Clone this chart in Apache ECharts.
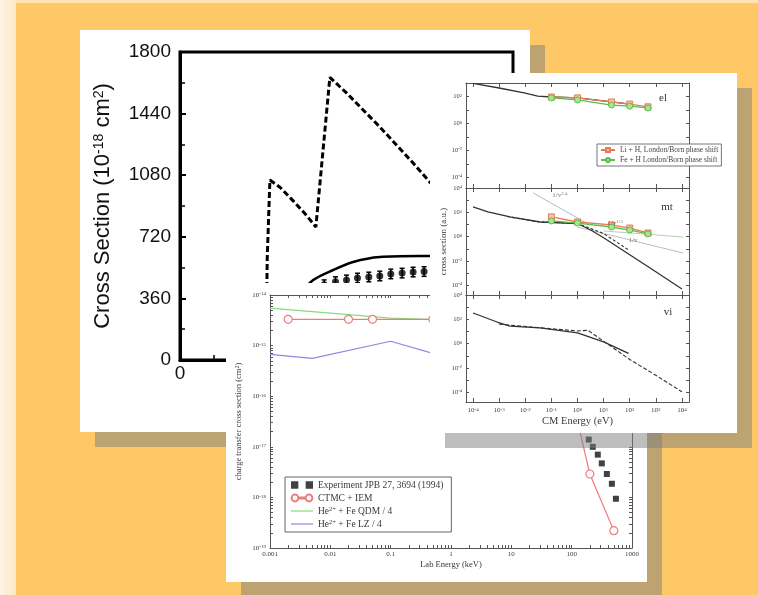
<!DOCTYPE html>
<html>
<head>
<meta charset="utf-8">
<script src="https://cdn.jsdelivr.net/npm/echarts@6/dist/echarts.min.js"></script>
<style>
  html, body { margin: 0; padding: 0; background: #FEC867; }
  #chart { width: 758px; height: 595px; }
</style>
</head>
<body>
<div id="chart"></div>
<script>
// ---------- left sheet: total cross section vs. energy ----------
const csTicks = [0, 360, 720, 1080, 1440, 1800];
const dashedE  = [2.58, 2.62, 2.7, 3.0, 3.4, 3.8, 4.08, 4.5, 5.0, 5.5, 6.0, 6.5, 7.0, 7.5, 8.0, 9.0, 10.0];
const dashedCS = [0, 600, 1052, 1010, 930, 845, 777, 1652, 1561, 1461, 1362, 1257, 1151, 1040, 950, 820, 720];
const solidE   = [2.6, 3.0, 3.5, 4.0, 4.6, 5.2, 6.0, 7.5, 10.0];
const solidCS  = [0, 200, 360, 467, 526, 573, 602, 608, 610];
const measE    = [4.33, 4.67, 5.0, 5.33, 5.67, 6.0, 6.33, 6.67, 7.0, 7.33, 7.67];
const measCS   = [440, 458, 468, 479, 485, 491, 503, 508, 514, 517, 520];
const measErr  = [28, 28, 28, 28, 28, 28, 28, 28, 28, 28, 28];

// ---------- front sheet: charge transfer vs. lab energy ----------
const labTicks = [0.001, 0.01, 0.1, 1, 10, 100, 1000];
const ctTicks  = [1e-19, 1e-18, 1e-17, 1e-16, 1e-15, 1e-14];
const expLab   = [192, 224, 271, 316, 383, 464, 541];
const expCT    = [1.39e-17, 1.0e-17, 7.0e-18, 4.7e-18, 2.9e-18, 1.86e-18, 9.4e-19];
const ctmcLab  = [0.002, 0.02, 0.05, 0.5, 5, 50, 100, 200, 500];
const ctmcCT   = [3.3e-15, 3.3e-15, 3.3e-15, 3.3e-15, 2.5e-15, 1.0e-15, 1.0e-16, 2.9e-18, 2.2e-19];
const qdmLab   = [0.001, 0.01, 0.1, 1, 10, 100];
const qdmCT    = [5.5e-15, 4.4e-15, 3.5e-15, 3.2e-15, 2.0e-15, 3.0e-16];
const lzLab    = [0.001, 0.005, 0.1, 0.5, 5, 50];
const lzCT     = [6.7e-16, 5.6e-16, 1.22e-15, 7.0e-16, 3.0e-16, 1.0e-16];

// ---------- right sheet: el / mt / vi cross sections vs. CM energy ----------
const cmTicks  = [1e-4, 1e-3, 1e-2, 1e-1, 1, 10, 100, 1000, 1e4];
const auTicksEl = [1e-4, 1e-2, 1, 100];
const auTicks   = [1e-4, 1e-2, 1, 100, 1e4];
const elE      = [1e-4, 1e-3, 1e-2, 0.03, 0.1, 1, 20, 100];
const elCS     = [950, 425, 180, 107, 91, 78, 39, 27];
const phaseE   = [0.1, 1, 20, 100, 500];
const elLi     = [91, 78, 39, 27, 17];
const elFe     = [78, 55, 23, 19, 14];
const mtE      = [1e-4, 3.7e-4, 2.6e-3, 0.037, 1, 3.2, 10, 100, 1000, 1e4];
const mtCS     = [275, 107, 42, 16, 12, 3.5, 0.8, 0.032, 1.3e-3, 5e-5];
const mtDashE  = [2e-3, 0.03, 1, 10, 90];
const mtDashCS = [45, 17, 12, 1.8, 0.08];
const mtLi     = [42, 16, 9.1, 5.1, 2.0];
const mtFe     = [19.5, 13, 6.2, 3.5, 1.7];
const fitA_E   = [0.02, 3];      const fitA_CS = [3900, 9];
const fitB_E   = [1, 1.1e4];     const fitB_CS = [6.2, 0.045];
const fitC_E   = [10, 1.1e4];    const fitC_CS = [2.95, 0.93];
const fitLabels = [
  { e: 0.21, cs: 2630, text: '{t|1/v}{s|2.4}' },
  { e: 27.5, cs: 13.2, text: '{t|1/v}{s|1/3}' },
  { e: 135,  cs: 0.52, text: '{t|1/v}' }
];
const viE      = [1e-4, 8.3e-4, 2.6e-3, 0.037, 1, 10, 90];
const viCS     = [331, 60, 28, 19.5, 7.6, 1.4, 0.16];
const viDashE  = [1e-3, 0.037, 1, 2.5, 10, 100, 1000, 1e4];
const viDashCS = [40, 20, 11, 12.6, 1.6, 0.05, 0.0025, 1.1e-4];

// ---------- helpers ----------
const SANS = '"Liberation Sans", Arial, Helvetica, sans-serif';
const SERIF = '"Liberation Serif", "Times New Roman", "DejaVu Serif", serif';
const SHADOW = 'rgba(125,125,125,0.5)';
const FRAME = '#555';
const INK = '#3a3a3a';
const lg = Math.log10;
const toPts = (xs, ys) => xs.map((x, i) => [lg(x), lg(ys[i])]);
const logMinors = (lo, hi) => {
  const out = [];
  for (let d = lo; d < hi; d++) for (let k = 2; k <= 9; k++) out.push(d + lg(k));
  return out;
};
const powLabel = v => '{b|10}{s|' + Math.round(v) + '}';
const powRich = (b, s) => ({
  b: { fontFamily: SERIF, fontSize: b, color: INK },
  s: { fontFamily: SERIF, fontSize: s, color: INK, verticalAlign: 'top' }
});
// legend glyphs: a plain stroke, and ring-stroke-ring
const LINE_ICON = 'path://M0,0M0,3.4h22v1.2h-22zM22,8';
const RING_ICON = 'path://M0.6,4a3.4,3.4 0 1,0 6.8,0a3.4,3.4 0 1,0 -6.8,0zM7.4,3.6h7.2v0.8h-7.2zM14.6,4a3.4,3.4 0 1,0 6.8,0a3.4,3.4 0 1,0 -6.8,0zM0,0M22,8';

// log-scaled value axis drawn on log10 of the data
function logAxis(o) {
  const ax = {
    type: 'value', gridIndex: o.grid, position: o.pos, min: o.min, max: o.max,
    zlevel: o.zlevel, z: 3,
    axisLine: { show: true, onZero: false, lineStyle: { color: FRAME, width: 1 } },
    axisTick: { show: true, inside: true, length: o.tickLen || 3, customValues: o.ticks, lineStyle: { color: FRAME, width: 1 } },
    axisLabel: { show: !!o.labels },
    splitLine: { show: false },
    minorTick: { show: false }
  };
  if (o.labels) {
    ax.axisLabel = {
      show: true, customValues: o.labels, formatter: o.formatter || powLabel, margin: o.margin || 3,
      fontFamily: SERIF, fontSize: o.fontSize || 7, color: INK, rich: powRich(o.fontSize || 7, (o.fontSize || 7) - 2)
    };
  }
  if (o.name) {
    ax.name = o.name; ax.nameLocation = 'middle'; ax.nameGap = o.nameGap; ax.nameMoveOverlap = false;
    ax.nameTextStyle = { fontFamily: SERIF, fontSize: o.nameSize || 8.5, color: INK, rich: o.nameRich || {} };
  }
  return ax;
}

const cmMaj = cmTicks.map(lg);
const cmMin = -4.27, cmMax = 4.27;
const labMaj = labTicks.map(lg);
const ctMaj = ctTicks.map(lg);

const chart = echarts.init(document.getElementById('chart'), null, { renderer: 'canvas' });

const xAxis = [
  // 0: left sheet energy axis
  {
    type: 'value', gridIndex: 0, position: 'bottom', min: 0, max: 10, interval: 2, zlevel: 0, z: 3,
    axisLine: { show: true, onZero: false, lineStyle: { color: '#000', width: 3 } },
    axisTick: { show: true, inside: true, length: 6, lineStyle: { color: '#000', width: 2 } },
    minorTick: { show: true, splitNumber: 2, length: 5, lineStyle: { color: '#000', width: 1.5 } },
    axisLabel: { fontFamily: SANS, fontSize: 19, color: '#111', margin: 4, formatter: v => String(v) },
    splitLine: { show: false }
  },
  // 1-2: charge transfer sheet
  logAxis({ grid: 1, pos: 'bottom', min: -3, max: 3, zlevel: 1, ticks: labMaj.concat(logMinors(-3, 3)), labels: labMaj,
    formatter: v => String(Math.pow(10, Math.round(v))), fontSize: 7, margin: 3,
    name: 'Lab Energy (keV)', nameGap: 12, nameSize: 8.5 }),
  logAxis({ grid: 1, pos: 'top', min: -3, max: 3, zlevel: 1, ticks: labMaj.concat(logMinors(-3, 3)) }),
  // 3-8: el / mt / vi
  logAxis({ grid: 2, pos: 'bottom', min: cmMin, max: cmMax, zlevel: 2, ticks: cmMaj, tickLen: 4 }),
  logAxis({ grid: 2, pos: 'top', min: cmMin, max: cmMax, zlevel: 2, ticks: cmMaj, tickLen: 4 }),
  logAxis({ grid: 3, pos: 'bottom', min: cmMin, max: cmMax, zlevel: 2, ticks: cmMaj, tickLen: 4 }),
  logAxis({ grid: 3, pos: 'top', min: cmMin, max: cmMax, zlevel: 2, ticks: cmMaj, tickLen: 4 }),
  logAxis({ grid: 4, pos: 'bottom', min: cmMin, max: cmMax, zlevel: 2, ticks: cmMaj, tickLen: 4, labels: cmMaj, fontSize: 7, margin: 5,
    name: 'CM Energy (eV)', nameGap: 14, nameSize: 10.5 }),
  logAxis({ grid: 4, pos: 'top', min: cmMin, max: cmMax, zlevel: 2, ticks: cmMaj, tickLen: 4 })
];

const yAxis = [
  // 0: left sheet cross section axis
  {
    type: 'value', gridIndex: 0, position: 'left', min: 0, max: 1800, interval: 360, zlevel: 0, z: 3,
    axisLine: { show: true, onZero: false, lineStyle: { color: '#000', width: 3 } },
    axisTick: { show: true, inside: true, length: 6, lineStyle: { color: '#000', width: 2 } },
    minorTick: { show: true, splitNumber: 2, length: 5, lineStyle: { color: '#000', width: 1.5 } },
    axisLabel: { fontFamily: SANS, fontSize: 19, color: '#111', margin: 9, customValues: csTicks, formatter: v => String(v) },
    splitLine: { show: false },
    name: '{a|Cross Section (10}{s|-18}{a| cm}{s|2}{a|)}',
    nameLocation: 'middle', nameGap: 66, nameMoveOverlap: false,
    nameTextStyle: {
      rich: {
        a: { fontFamily: SANS, fontSize: 22, color: '#111' },
        s: { fontFamily: SANS, fontSize: 14, color: '#111', verticalAlign: 'top' }
      }
    }
  },
  // 1-2: charge transfer sheet
  logAxis({ grid: 1, pos: 'left', min: -19, max: -14, zlevel: 1, ticks: ctMaj.concat(logMinors(-19, -14)), labels: ctMaj, fontSize: 7, margin: 4,
    name: '{t|charge transfer cross section (cm}{s|2}{t|)}', nameGap: 27, nameSize: 8.5,
    nameRich: { t: { fontFamily: SERIF, fontSize: 8.5, color: INK }, s: { fontFamily: SERIF, fontSize: 6, color: INK, verticalAlign: 'top' } } }),
  logAxis({ grid: 1, pos: 'right', min: -19, max: -14, zlevel: 1, ticks: ctMaj.concat(logMinors(-19, -14)) }),
  // 3-8: el / mt / vi
  logAxis({ grid: 2, pos: 'left', min: -4.8, max: 3, zlevel: 2, ticks: [-4, -3, -2, -1, 0, 1, 2, 3], labels: auTicksEl.map(lg), fontSize: 6.5, margin: 4 }),
  logAxis({ grid: 2, pos: 'right', min: -4.8, max: 3, zlevel: 2, ticks: [-4, -3, -2, -1, 0, 1, 2, 3] }),
  logAxis({ grid: 3, pos: 'left', min: -4.8, max: 4, zlevel: 2, ticks: [-4, -3, -2, -1, 0, 1, 2, 3, 4], labels: auTicks.map(lg), fontSize: 6.5, margin: 4,
    name: 'cross section (a.u.)', nameGap: 18, nameSize: 9 }),
  logAxis({ grid: 3, pos: 'right', min: -4.8, max: 4, zlevel: 2, ticks: [-4, -3, -2, -1, 0, 1, 2, 3, 4] }),
  logAxis({ grid: 4, pos: 'left', min: -4.8, max: 4, zlevel: 2, ticks: [-4, -3, -2, -1, 0, 1, 2, 3, 4], labels: auTicks.map(lg), fontSize: 6.5, margin: 4 }),
  logAxis({ grid: 4, pos: 'right', min: -4.8, max: 4, zlevel: 2, ticks: [-4, -3, -2, -1, 0, 1, 2, 3, 4] })
];

const lineBase = { type: 'line', animation: false, showSymbol: false, symbol: 'none', clip: true, silent: true };

const series = [
  // left sheet
  Object.assign({}, lineBase, { name: 'dashed', xAxisIndex: 0, yAxisIndex: 0, zlevel: 0, z: 4,
    data: dashedE.map((e, i) => [e, dashedCS[i]]),
    lineStyle: { color: '#000', width: 3, type: [6, 3] } }),
  Object.assign({}, lineBase, { name: 'solid', xAxisIndex: 0, yAxisIndex: 0, zlevel: 0, z: 4, smooth: 0.3,
    data: solidE.map((e, i) => [e, solidCS[i]]),
    lineStyle: { color: '#000', width: 2.5 } }),
  { type: 'custom', name: 'errors', xAxisIndex: 0, yAxisIndex: 0, zlevel: 0, z: 5, silent: true, animation: false,
    data: measE.map((e, i) => [e, measCS[i], measErr[i]]),
    renderItem: (params, api) => {
      const x = api.value(0), y = api.value(1), err = api.value(2);
      const hi = api.coord([x, y + err]), lo = api.coord([x, y - err]);
      const w = 2.5, st = { stroke: '#000', lineWidth: 1.5 };
      return { type: 'group', children: [
        { type: 'line', shape: { x1: hi[0], y1: hi[1], x2: lo[0], y2: lo[1] }, style: st },
        { type: 'line', shape: { x1: hi[0] - w, y1: hi[1], x2: hi[0] + w, y2: hi[1] }, style: st },
        { type: 'line', shape: { x1: lo[0] - w, y1: lo[1], x2: lo[0] + w, y2: lo[1] }, style: st }
      ] };
    } },
  { type: 'scatter', name: 'measured', xAxisIndex: 0, yAxisIndex: 0, zlevel: 0, z: 6, silent: true, animation: false,
    symbol: 'circle', symbolSize: 7, itemStyle: { color: '#000' },
    data: measE.map((e, i) => [e, measCS[i]]) },

  // charge transfer sheet
  Object.assign({}, lineBase, { name: 'He2+ + Fe QDM / 4', xAxisIndex: 1, yAxisIndex: 1, zlevel: 1, z: 4,
    data: toPts(qdmLab, qdmCT), lineStyle: { color: '#86DC80', width: 1.2 }, itemStyle: { color: '#86DC80' } }),
  Object.assign({}, lineBase, { name: 'He2+ + Fe LZ / 4', xAxisIndex: 1, yAxisIndex: 1, zlevel: 1, z: 4,
    data: toPts(lzLab, lzCT), lineStyle: { color: '#8A8AE6', width: 1.2 }, itemStyle: { color: '#8A8AE6' } }),
  Object.assign({}, lineBase, { name: 'CTMC + IEM', xAxisIndex: 1, yAxisIndex: 1, zlevel: 1, z: 5,
    showSymbol: true, symbol: 'circle', symbolSize: 8,
    data: toPts(ctmcLab, ctmcCT), lineStyle: { color: '#EE7C7C', width: 1.2 },
    itemStyle: { color: '#fff', borderColor: '#EE7C7C', borderWidth: 1.2 } }),
  { type: 'scatter', name: 'Experiment JPB 27, 3694 (1994)', xAxisIndex: 1, yAxisIndex: 1, zlevel: 1, z: 6, silent: true, animation: false,
    symbol: 'rect', symbolSize: 6, itemStyle: { color: '#111' },
    data: toPts(expLab, expCT) },

  // el
  Object.assign({}, lineBase, { name: 'el-black', xAxisIndex: 3, yAxisIndex: 3, zlevel: 2, z: 4,
    data: toPts(elE, elCS), lineStyle: { color: '#333', width: 1.3 } }),
  Object.assign({}, lineBase, { name: 'Li + H, London/Born phase shift', xAxisIndex: 3, yAxisIndex: 3, zlevel: 2, z: 5,
    showSymbol: true, symbol: 'rect', symbolSize: 6, data: toPts(phaseE, elLi),
    lineStyle: { color: '#E97A55', width: 1.3 }, itemStyle: { color: '#F7C0A8', borderColor: '#E97A55', borderWidth: 1 } }),
  Object.assign({}, lineBase, { name: 'Fe + H London/Born phase shift', xAxisIndex: 3, yAxisIndex: 3, zlevel: 2, z: 6,
    showSymbol: true, symbol: 'circle', symbolSize: 6, data: toPts(phaseE, elFe),
    lineStyle: { color: '#5DBE4E', width: 1.3 }, itemStyle: { color: '#A6E592', borderColor: '#5DBE4E', borderWidth: 1 } }),

  // mt
  Object.assign({}, lineBase, { name: 'fitA', xAxisIndex: 5, yAxisIndex: 5, zlevel: 2, z: 3,
    data: toPts(fitA_E, fitA_CS), lineStyle: { color: '#AEBFC6', width: 1 } }),
  Object.assign({}, lineBase, { name: 'fitB', xAxisIndex: 5, yAxisIndex: 5, zlevel: 2, z: 3,
    data: toPts(fitB_E, fitB_CS), lineStyle: { color: '#B4C4C0', width: 1 } }),
  Object.assign({}, lineBase, { name: 'fitC', xAxisIndex: 5, yAxisIndex: 5, zlevel: 2, z: 3,
    data: toPts(fitC_E, fitC_CS), lineStyle: { color: '#B8D2B4', width: 1 } }),
  Object.assign({}, lineBase, { name: 'mt-black', xAxisIndex: 5, yAxisIndex: 5, zlevel: 2, z: 4,
    data: toPts(mtE, mtCS), lineStyle: { color: '#333', width: 1.3 } }),
  Object.assign({}, lineBase, { name: 'mt-dash', xAxisIndex: 5, yAxisIndex: 5, zlevel: 2, z: 4,
    data: toPts(mtDashE, mtDashCS), lineStyle: { color: '#333', width: 1.1, type: [3, 2] } }),
  Object.assign({}, lineBase, { name: 'Li + H, London/Born phase shift', xAxisIndex: 5, yAxisIndex: 5, zlevel: 2, z: 5,
    showSymbol: true, symbol: 'rect', symbolSize: 6, data: toPts(phaseE, mtLi),
    lineStyle: { color: '#E97A55', width: 1.3 }, itemStyle: { color: '#F7C0A8', borderColor: '#E97A55', borderWidth: 1 } }),
  Object.assign({}, lineBase, { name: 'Fe + H London/Born phase shift', xAxisIndex: 5, yAxisIndex: 5, zlevel: 2, z: 6,
    showSymbol: true, symbol: 'circle', symbolSize: 6, data: toPts(phaseE, mtFe),
    lineStyle: { color: '#5DBE4E', width: 1.3 }, itemStyle: { color: '#A6E592', borderColor: '#5DBE4E', borderWidth: 1 } }),
  { type: 'scatter', name: 'fit labels', xAxisIndex: 5, yAxisIndex: 5, zlevel: 2, z: 7, silent: true, animation: false,
    symbolSize: 0,
    data: fitLabels.map(f => ({ value: [lg(f.e), lg(f.cs)], text: f.text })),
    label: { show: true, position: 'inside', formatter: p => p.data.text,
      rich: { t: { fontFamily: SERIF, fontSize: 7, color: '#555' }, s: { fontFamily: SERIF, fontSize: 5, color: '#555', verticalAlign: 'top' } } } },

  // vi
  Object.assign({}, lineBase, { name: 'vi-black', xAxisIndex: 7, yAxisIndex: 7, zlevel: 2, z: 4,
    data: toPts(viE, viCS), lineStyle: { color: '#333', width: 1.3 } }),
  Object.assign({}, lineBase, { name: 'vi-dash', xAxisIndex: 7, yAxisIndex: 7, zlevel: 2, z: 4,
    data: toPts(viDashE, viDashCS), lineStyle: { color: '#333', width: 1.1, type: [4, 2] } })
];

const heRich = {
  t: { fontFamily: SERIF, fontSize: 9.5, color: INK },
  s: { fontFamily: SERIF, fontSize: 6.5, color: INK, verticalAlign: 'top' }
};

const option = {
  animation: false,
  backgroundColor: '#FEC867',
  grid: [
    { left: 180, top: 52, width: 333, height: 308, show: true, borderColor: '#000', borderWidth: 3, backgroundColor: 'transparent',
      zlevel: 0, z: 2, containLabel: false, outerBoundsMode: 'none' },
    { left: 270, top: 295, width: 362, height: 253, zlevel: 1, containLabel: false, outerBoundsMode: 'none' },
    { left: 466, top: 83, width: 223, height: 105, zlevel: 2, containLabel: false, outerBoundsMode: 'none' },
    { left: 466, top: 188, width: 223, height: 107, zlevel: 2, containLabel: false, outerBoundsMode: 'none' },
    { left: 466, top: 295, width: 223, height: 107, zlevel: 2, containLabel: false, outerBoundsMode: 'none' }
  ],
  xAxis, yAxis, series,
  legend: [
    {
      zlevel: 1, z: 8, left: 285, top: 477, orient: 'vertical', selectedMode: false,
      backgroundColor: '#fff', borderColor: '#666', borderWidth: 1, padding: [3, 8, 3, 5], itemGap: 3,
      itemWidth: 22, itemHeight: 8,
      textStyle: { fontFamily: SERIF, fontSize: 9.5, color: INK, rich: heRich },
      formatter: name => name.startsWith('He2+') ? '{t|He}{s|2+}{t|' + name.slice(4) + '}' : name,
      data: [
        { name: 'Experiment JPB 27, 3694 (1994)', icon: 'path://M0,0h4v4h-4zM8,0h4v4h-4z' },
        { name: 'CTMC + IEM', icon: RING_ICON },
        { name: 'He2+ + Fe QDM / 4', icon: LINE_ICON },
        { name: 'He2+ + Fe LZ / 4', icon: LINE_ICON }
      ]
    },
    {
      zlevel: 2, z: 8, left: 597, top: 144, orient: 'vertical', selectedMode: false,
      backgroundColor: '#fff', borderColor: '#777', borderWidth: 1, padding: [2, 3, 2, 3], itemGap: 2,
      itemWidth: 14, itemHeight: 5,
      textStyle: { fontFamily: SERIF, fontSize: 7.5, color: '#444' },
      data: ['Li + H, London/Born phase shift', 'Fe + H London/Born phase shift']
    }
  ],
  graphic: { elements: [
    { type: 'rect', zlevel: 0, z: -100, silent: true, shape: { x: 0, y: 0, width: 758, height: 595 }, style: { fill: '#FEC867' } },
    { type: 'rect', zlevel: 0, z: -99, silent: true, shape: { x: 0, y: 0, width: 16, height: 595 },
      style: { fill: new echarts.graphic.LinearGradient(0, 0, 1, 0, [{ offset: 0, color: '#FCF4E6' }, { offset: 1, color: '#FDE8C4' }]) } },
    { type: 'rect', zlevel: 0, z: -99, silent: true, shape: { x: 16, y: 0, width: 742, height: 3 }, style: { fill: '#FDE4B4' } },
    // left sheet
    { type: 'rect', zlevel: 0, z: -90, silent: true, shape: { x: 95, y: 45, width: 450, height: 402 }, style: { fill: SHADOW } },
    { type: 'rect', zlevel: 0, z: -80, silent: true, shape: { x: 80, y: 30, width: 450, height: 402 }, style: { fill: '#fff' } },
    // front sheet
    { type: 'rect', zlevel: 1, z: -90, silent: true, shape: { x: 241, y: 298, width: 421, height: 299 }, style: { fill: SHADOW } },
    { type: 'rect', zlevel: 1, z: -80, silent: true, shape: { x: 226, y: 283, width: 421, height: 299 }, style: { fill: '#fff' } },
    // right sheet
    { type: 'rect', zlevel: 2, z: -90, silent: true, shape: { x: 445, y: 88, width: 307, height: 360 }, style: { fill: SHADOW } },
    { type: 'rect', zlevel: 2, z: -80, silent: true, shape: { x: 430, y: 73, width: 307, height: 360 }, style: { fill: '#fff' } },
    { type: 'text', zlevel: 2, z: 10, silent: true, x: 663, y: 98,
      style: { text: 'el', font: '11px "Liberation Serif", serif', fill: '#333', align: 'center', verticalAlign: 'middle', textAlign: 'center', textVerticalAlign: 'middle' } },
    { type: 'text', zlevel: 2, z: 10, silent: true, x: 667, y: 207,
      style: { text: 'mt', font: '11px "Liberation Serif", serif', fill: '#333', align: 'center', verticalAlign: 'middle', textAlign: 'center', textVerticalAlign: 'middle' } },
    { type: 'text', zlevel: 2, z: 10, silent: true, x: 668, y: 312,
      style: { text: 'vi', font: '11px "Liberation Serif", serif', fill: '#333', align: 'center', verticalAlign: 'middle', textAlign: 'center', textVerticalAlign: 'middle' } }
  ] }
};

chart.setOption(option);
</script>
</body>
</html>
